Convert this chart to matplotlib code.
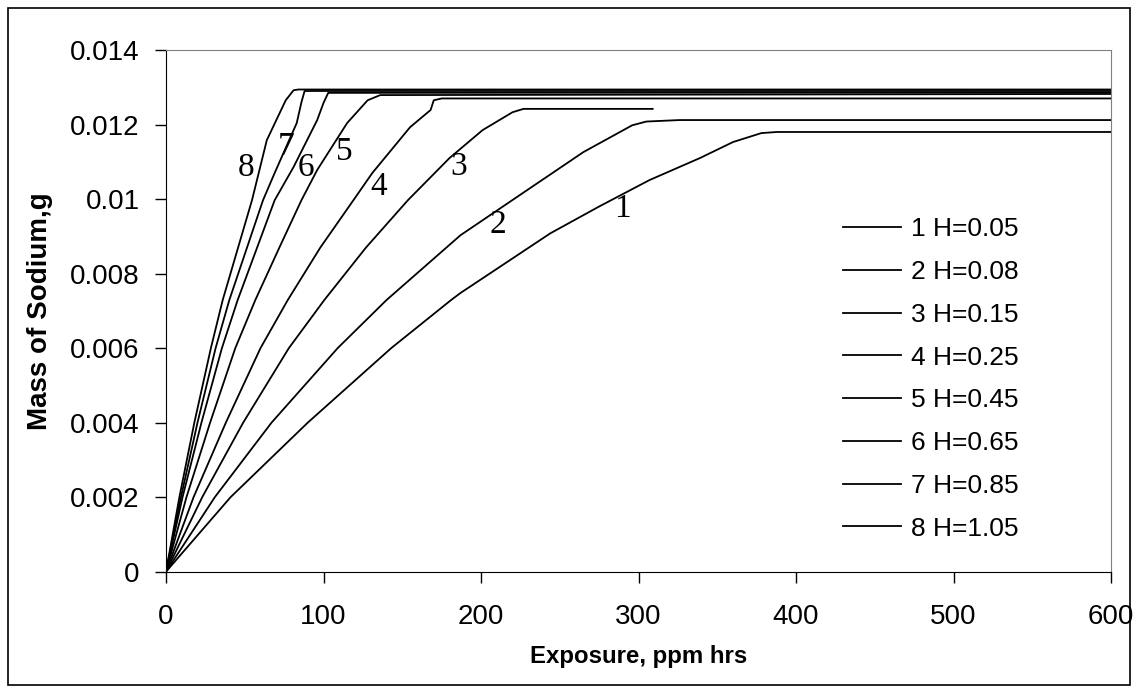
import matplotlib.pyplot as plt
from matplotlib.patches import Rectangle

# curves: exposure (ppm hrs) vs mass of sodium (g)
x1 = [0, 41, 90, 143, 181, 187, 244, 275, 307, 339, 360, 378, 388, 600]
y1 = [0, 0.002, 0.004, 0.006, 0.00729, 0.00748, 0.00908, 0.0098, 0.01051, 0.0111, 0.01153, 0.01177, 0.0118, 0.0118]
x2 = [0, 31, 67, 109, 140, 187, 223, 265, 296, 305, 326, 600]
y2 = [0, 0.002, 0.004, 0.006, 0.00729, 0.00903, 0.01006, 0.01126, 0.01198, 0.01208, 0.01212, 0.01212]
x3 = [0, 23, 49, 78, 100.5, 127, 153.6, 180, 201, 220, 227, 309]
y3 = [0, 0.002, 0.004, 0.006, 0.00729, 0.0087, 0.00997, 0.0111, 0.01185, 0.01233, 0.01242, 0.01242]
x4 = [0, 17.5, 38, 60, 77.3, 98, 119, 131, 155, 168, 170, 175, 600]
y4 = [0, 0.002, 0.004, 0.006, 0.00729, 0.0087, 0.00997, 0.0107, 0.01193, 0.01239, 0.01265, 0.0127, 0.0127]
x5 = [0, 13, 28, 44, 56.7, 72, 86, 96, 115, 128, 136, 600]
y5 = [0, 0.002, 0.004, 0.006, 0.00729, 0.0087, 0.00997, 0.01078, 0.01204, 0.01265, 0.01279, 0.01282]
x6 = [0, 10.5, 22.5, 35.5, 45.5, 69, 81, 96, 100, 103, 600]
y6 = [0, 0.002, 0.004, 0.006, 0.00729, 0.00997, 0.01086, 0.01212, 0.01258, 0.01285, 0.01286]
x7 = [0, 9.5, 20, 31.5, 40.2, 61.6, 69, 83, 86, 88, 600]
y7 = [0, 0.002, 0.004, 0.006, 0.00729, 0.00997, 0.0107, 0.01204, 0.0126, 0.0129, 0.0129]
x8 = [0, 8.5, 18, 28.5, 36, 54.6, 64, 76, 81, 84, 600]
y8 = [0, 0.002, 0.004, 0.006, 0.00729, 0.00997, 0.01158, 0.01265, 0.01292, 0.01294, 0.01294]

xs = [x1, x2, x3, x4, x5, x6, x7, x8]
ys = [y1, y2, y3, y4, y5, y6, y7, y8]
legend_labels = ["1 H=0.05", "2 H=0.08", "3 H=0.15", "4 H=0.25",
                 "5 H=0.45", "6 H=0.65", "7 H=0.85", "8 H=1.05"]
# where the curve numbers sit on the chart
num_x = [290, 211, 186, 135, 113, 89, 76, 51]
num_y = [0.00975, 0.0093, 0.01086, 0.01032, 0.01126, 0.01083, 0.0114, 0.01083]

plt.rcParams['font.family'] = ['Liberation Sans', 'DejaVu Sans']

fig = plt.figure(figsize=(11.38, 6.92), dpi=100)
fig.patches.append(Rectangle((8 / 1138, 7 / 692), 1122 / 1138, 677 / 692,
                             transform=fig.transFigure, fill=False,
                             edgecolor='black', linewidth=1.2))
ax = fig.add_axes([166 / 1138, 120.3 / 692, 945 / 1138, 521.7 / 692])

for i in range(8):
    ax.plot(xs[i], ys[i], color='black', linewidth=1.3, label=legend_labels[i])
    ax.text(num_x[i], num_y[i], str(i + 1), family='Liberation Serif',
            fontsize=24, ha='center', va='center')

ax.set_xlim(0, 600)
ax.set_ylim(0, 0.014)
ax.set_xticks(range(0, 601, 100))
ax.set_yticks([0, 0.002, 0.004, 0.006, 0.008, 0.01, 0.012, 0.014])
ax.set_yticklabels(["0", "0.002", "0.004", "0.006", "0.008", "0.01", "0.012", "0.014"])
ax.tick_params(axis='y', direction='out', length=8, width=1, labelsize=20, pad=11)
ax.tick_params(axis='x', direction='out', length=8, width=1, labelsize=20, pad=15)

for side in ['top', 'right']:
    ax.spines[side].set_color('#808080')
for side in ['left', 'bottom']:
    ax.spines[side].set_color('black')

ax.set_xlabel("Exposure, ppm hrs", fontsize=17.3, fontweight='bold', labelpad=11)
ax.set_ylabel("Mass of Sodium,g", fontsize=20, fontweight='bold', labelpad=12)

ax.legend(loc='upper left', bbox_to_anchor=(0.716, 0.679), frameon=False,
          fontsize=19, handlelength=2.2, handletextpad=0.38, labelspacing=0.71,
          borderpad=0, borderaxespad=0)

fig.savefig("out.png", dpi=100)
